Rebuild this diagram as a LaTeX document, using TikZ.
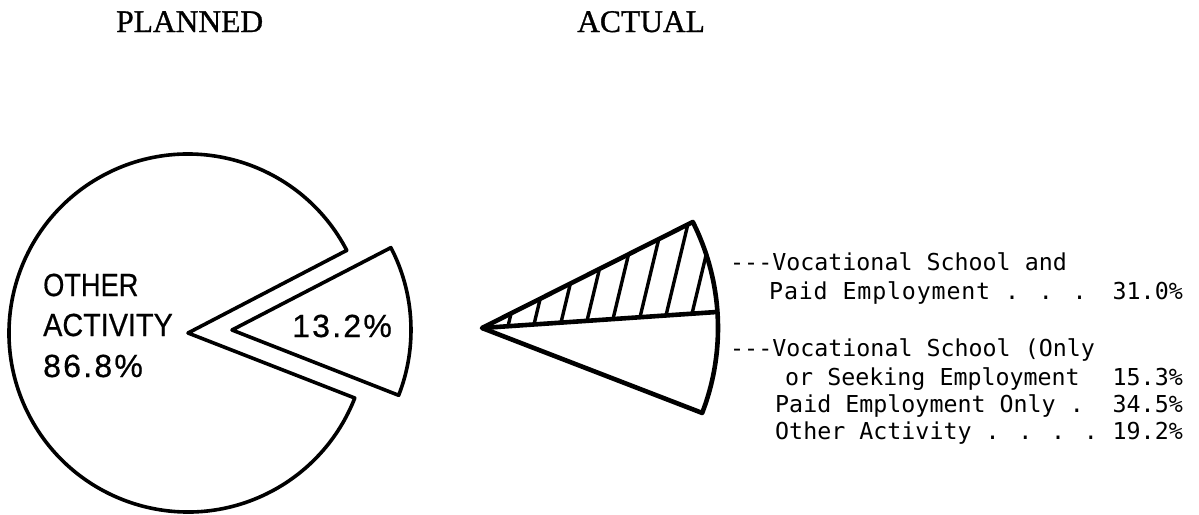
\documentclass[tikz,border=0pt]{standalone}
\usepackage{fontspec}
\setmainfont{Liberation Serif}
\newfontfamily\tfont[FakeBold=1]{Liberation Serif}
\newfontfamily\pfont[FakeBold=0.6]{Liberation Sans}
\newfontfamily\mfont{DejaVu Sans Mono}
\begin{document}
\begin{tikzpicture}[x=1pt,y=-1pt,
  title/.style={anchor=base west,inner sep=0pt,font=\tfont\fontsize{31.5}{31.5}\selectfont},
  pielab/.style={anchor=base west,inner sep=0pt,font=\pfont\fontsize{32}{32}\selectfont},
  legend/.style={anchor=base west,inner sep=0pt,font=\mfont\fontsize{23.3}{23.3}\selectfont},
  pct/.style={anchor=base east,inner sep=0pt,font=\mfont\fontsize{23.3}{23.3}\selectfont},
  pieline/.style={line width=3.6pt,line join=round},
  wedgeline/.style={line width=4.6pt,line join=round},
  hatch/.style={line width=3.4pt}]
\useasboundingbox (0,0) rectangle (1199,514);

% titles
\node[title] (planned) at (116,32) {PLANNED};
\node[title] (actual) at (577,32) {ACTUAL};

% planned pie: main part
\coordinate (pc) at (188,333);
\draw[pieline] (pc) -- ++(-27.5:179) arc[start angle=-27.5,end angle=-338.7,radius=179] -- cycle;
% exploded slice
\coordinate (sc) at (232,330);
\draw[pieline] (sc) -- ++(-27.4:179) arc[start angle=-27.4,end angle=21.4,radius=179] -- cycle;

\node[pielab] (l1) at (43,296) {\scalebox{0.85}[1]{OTHER}};
\node[pielab] (l2) at (43,336) {\scalebox{0.9}[1]{ACTIVITY}};
\node[pielab] (l3) at (43,377) {\addfontfeature{LetterSpace=7}86.8\%};
\node[pielab] (l4) at (292,337) {\addfontfeature{LetterSpace=7}13.2\%};

% actual wedge
\coordinate (ac) at (482,328);
\begin{scope}
  \clip (ac) -- ++(-26.7:236) arc[start angle=-26.7,end angle=-3.9,radius=236] -- cycle;
  \foreach \xb in {508,534,561,587,613,640,666,692}{
    \draw[hatch] ({\xb-0.24*10},{328-0.0682*(\xb-482)+10}) -- ({\xb+0.24*140},{328-0.0682*(\xb-482)-140});
  }
\end{scope}
\draw[wedgeline] (ac) -- ++(-3.9:236);
\draw[wedgeline] (ac) -- ++(-26.7:236) arc[start angle=-26.7,end angle=21.1,radius=236] -- cycle;

% legend
\node[legend] (t1) at (730,270) {---Vocational School and};
\node[legend] (t2) at (769,299) {\addfontfeature{LetterSpace=3.5}Paid Employment . . .};
\node[pct] (p2) at (1183,299) {31.0\%};
\node[legend] (t3) at (730,356) {---Vocational School (Only};
\node[legend] (t4) at (785,385) {or Seeking Employment};
\node[pct] (p4) at (1183,385) {15.3\%};
\node[legend] (t5) at (775,412) {Paid Employment Only .};
\node[pct] (p5) at (1183,412) {34.5\%};
\node[legend] (t6) at (775,439) {Other Activity . . . .};
\node[pct] (p6) at (1183,439) {19.2\%};
\end{tikzpicture}
\end{document}
